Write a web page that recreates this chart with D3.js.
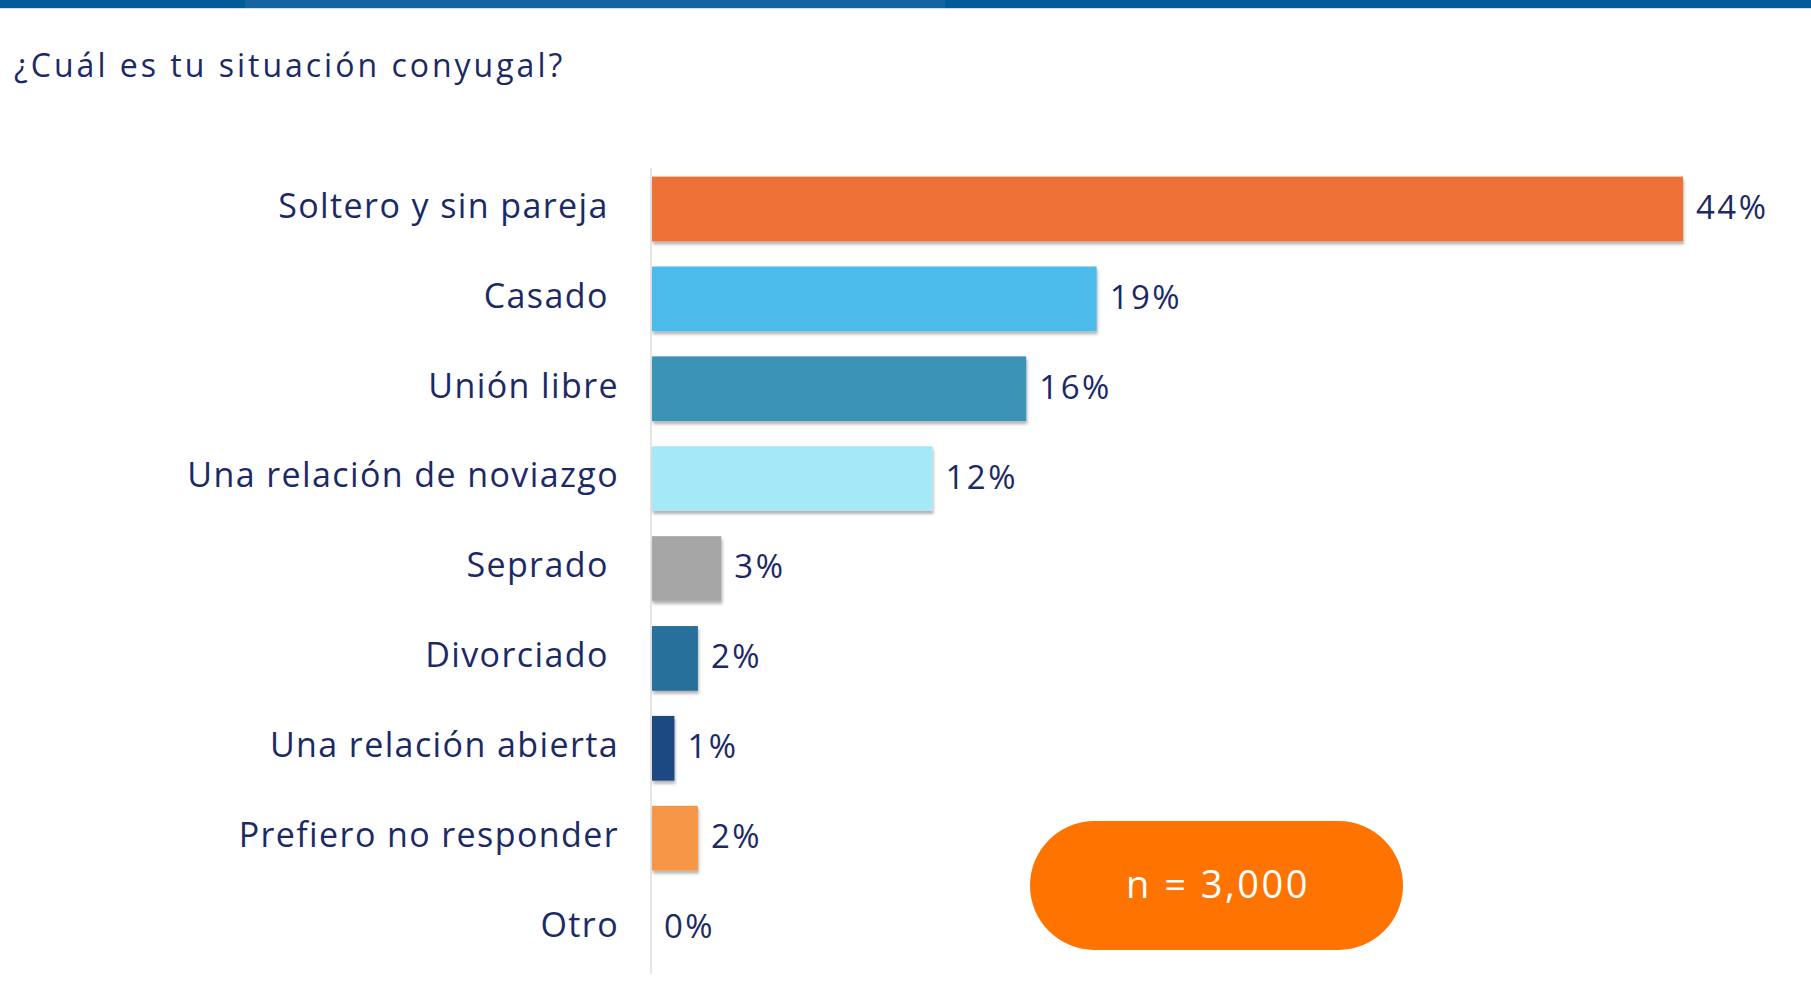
<!DOCTYPE html>
<html>
<head>
<meta charset="utf-8">
<script src="https://cdn.jsdelivr.net/npm/d3@7"></script>
<style>
  body { margin: 0; background: #fff; }
  svg { display: block; font-family: "Open Sans", sans-serif; }
  text { white-space: pre; }
</style>
</head>
<body>
<script>
// categories (trailing spaces kept as in the original labels)
var categories = ["Soltero y sin pareja ", "Casado ", "Unión libre", "Una relación de noviazgo",
                  "Seprado ", "Divorciado ", "Una relación abierta", "Prefiero no responder", "Otro"];
var values = [44, 19, 16, 12, 3, 2, 1, 2, 0]; // percent
var colors = ["#ee7139", "#4cbbec", "#3a93b6", "#a5e8f8", "#a6a6a6", "#276f9b", "#1f4a82", "#f79646", "#ffffff"];
var title = "¿Cuál es tu situación conyugal?";
var sampleLabel = "n = 3,000";

var W = 1811, H = 994;
var navy = "#1b2a66";

var svg = d3.select("body").append("svg")
    .attr("width", W)
    .attr("height", H);

// drop shadow for the bars
var defs = svg.append("defs");
var f = defs.append("filter").attr("id", "shadow")
    .attr("x", "-5%").attr("y", "-10%").attr("width", "115%").attr("height", "140%");
f.append("feDropShadow")
    .attr("dx", 1).attr("dy", 3).attr("stdDeviation", 1.5)
    .attr("flood-color", "#000").attr("flood-opacity", 0.3);

// top banner
svg.append("rect").attr("x", 0).attr("y", 0).attr("width", W).attr("height", 8).attr("fill", "#005b9a");
svg.append("rect").attr("x", 245).attr("y", 0).attr("width", 700).attr("height", 8).attr("fill", "#1f6aa5").attr("opacity", 0.6);
svg.append("rect").attr("x", 0).attr("y", 8).attr("width", W).attr("height", 1).attr("fill", "#cfe0ee");

// title
svg.append("text")
    .attr("x", 14).attr("y", 77)
    .attr("fill", navy)
    .style("font-size", "32px")
    .style("letter-spacing", "3px")
    .text(title);

// scales
var x = d3.scaleLinear().domain([0, 44]).range([651, 1683]);
var y = d3.scaleBand().domain(categories).range([164, 973]).paddingInner(0.28).paddingOuter(0.14);

// axis line
svg.append("line")
    .attr("x1", x(0)).attr("x2", x(0))
    .attr("y1", 168).attr("y2", 974)
    .attr("stroke", "#e6e6e6").attr("stroke-width", 2);

var rows = svg.selectAll("g.row")
    .data(categories)
    .enter()
    .append("g")
    .attr("class", "row");

rows.append("rect")
    .attr("x", x(0) + 1)
    .attr("y", function(d) { return y(d); })
    .attr("width", function(d, i) { return Math.max(0, x(values[i]) - x(0) - 1); })
    .attr("height", y.bandwidth())
    .attr("fill", function(d, i) { return colors[i]; })
    .attr("filter", function(d, i) { return values[i] > 0 ? "url(#shadow)" : null; });

// category labels
rows.append("text")
    .attr("x", 619)
    .attr("y", function(d) { return y(d) + y.bandwidth() / 2; })
    .attr("dy", "0.26em")
    .attr("text-anchor", "end")
    .attr("fill", navy)
    .style("font-size", "34px")
    .style("letter-spacing", "1.4px")
    .text(function(d) { return d; });

// value labels
rows.append("text")
    .attr("x", function(d, i) { return x(values[i]) + 13; })
    .attr("y", function(d) { return y(d) + y.bandwidth() / 2; })
    .attr("dy", "0.3em")
    .attr("fill", navy)
    .style("font-size", "33px")
    .style("letter-spacing", "2.5px")
    .text(function(d, i) { return values[i] + "%"; });

// sample size pill
svg.append("rect")
    .attr("x", 1030).attr("y", 821)
    .attr("width", 373).attr("height", 129)
    .attr("rx", 64.5).attr("ry", 64.5)
    .attr("fill", "#ff7300");
svg.append("text")
    .attr("x", 1218).attr("y", 885)
    .attr("dy", "0.35em")
    .attr("text-anchor", "middle")
    .attr("fill", "#fff")
    .style("font-size", "38px")
    .style("letter-spacing", "2.5px")
    .text(sampleLabel);
</script>
</body>
</html>
